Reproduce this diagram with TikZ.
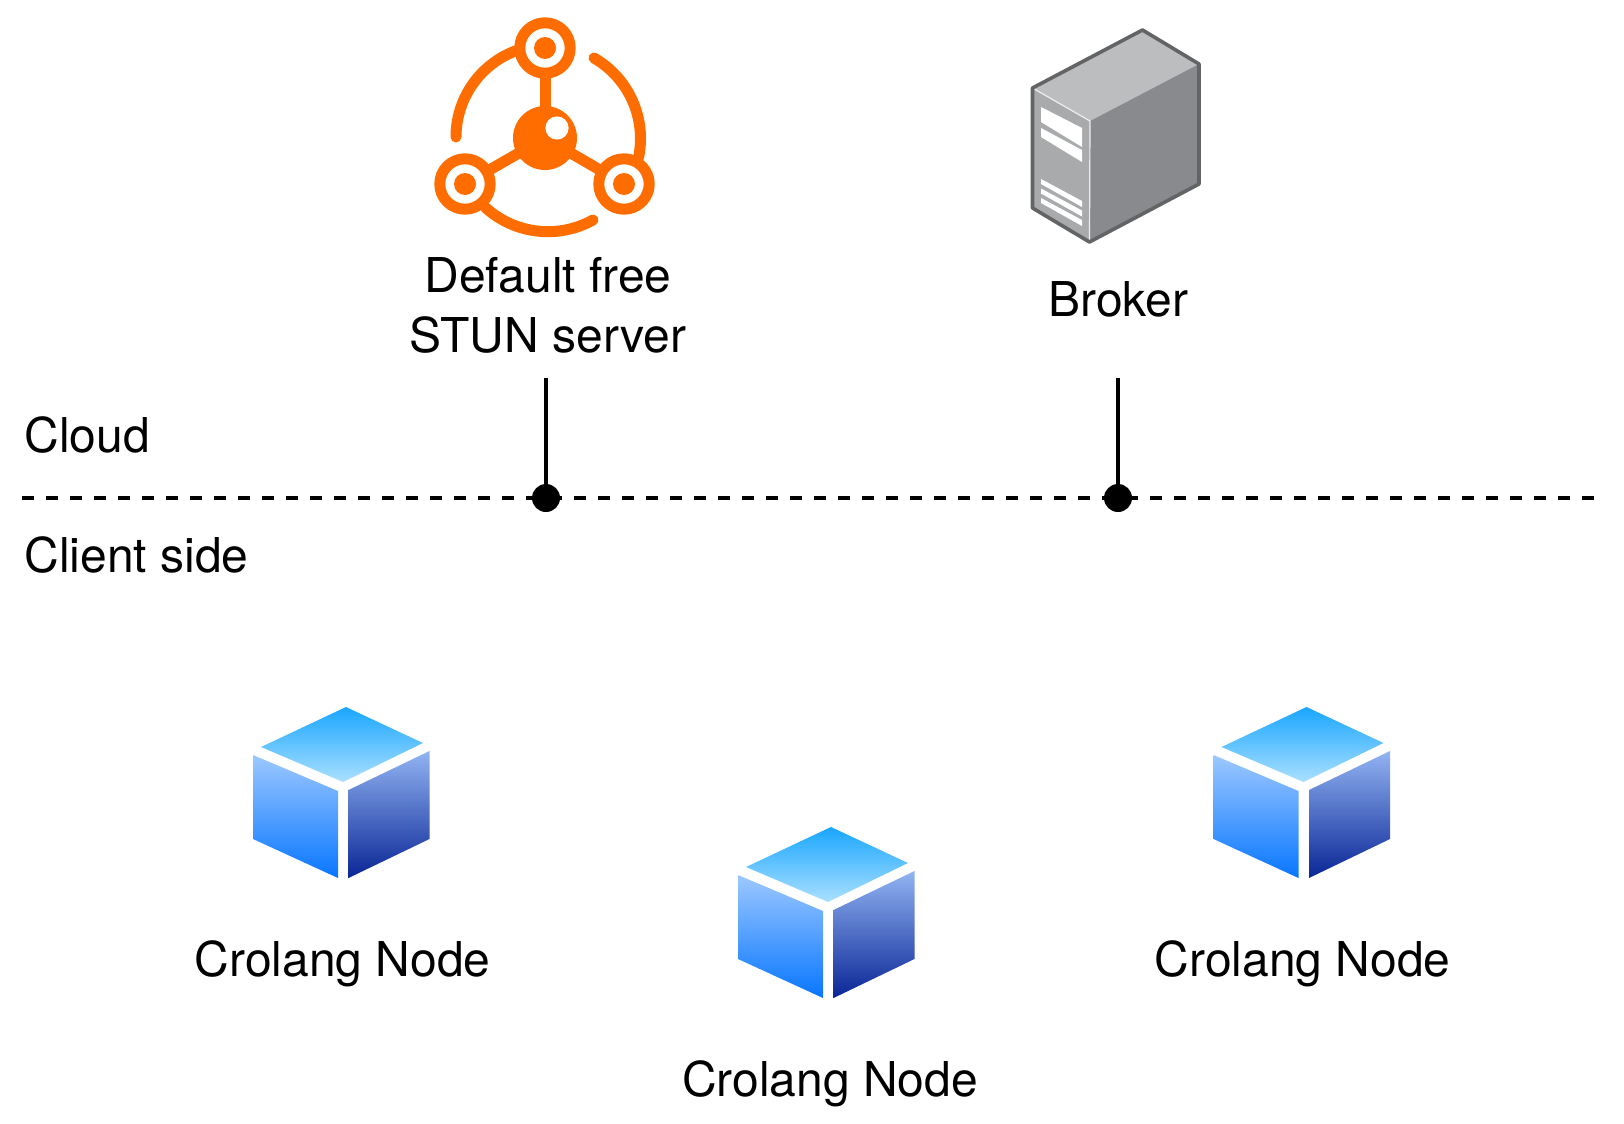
\documentclass[tikz,border=0pt]{standalone}
\usepackage{fontspec}
\setmainfont{TeX Gyre Heros}
\definecolor{stunor}{HTML}{FF6D00}
\definecolor{srvtop}{HTML}{BCBDBF}
\definecolor{srvside}{HTML}{898A8D}
\definecolor{srvfront}{HTML}{A9AAAC}
\definecolor{srvline}{HTML}{636466}
\definecolor{cubeTa}{HTML}{1AA6FF}
\definecolor{cubeTb}{HTML}{AAE0FF}
\definecolor{cubeLa}{HTML}{9CC8FF}
\definecolor{cubeLb}{HTML}{0876FF}
\definecolor{cubeRa}{HTML}{92B4F2}
\definecolor{cubeRb}{HTML}{0A2696}
\tikzset{
	lbl/.style={inner sep=0pt, font=\fontsize{24}{30}\selectfont, align=center, text=black},
	dot/.style={circle, fill=black, inner sep=0pt, minimum size=14pt},
	wire/.style={line width=2pt, black},
	divider/.style={line width=2pt, black, dash pattern=on 6pt off 6pt},
	ring/.style={line width=5.5pt, stunor, line cap=round}
}
\begin{document}
\begin{tikzpicture}[x=0.5pt, y=-0.5pt, line join=round]
	\useasboundingbox (0,0) rectangle (1624,1124);
	% STUN icon
	\coordinate (hub) at (545,138);
	\coordinate (satA) at (545,48);
	\coordinate (satB) at (465,184);
	\coordinate (satC) at (624,184);
	\foreach \sat in {satA,satB,satC} \draw[ring, line cap=butt] (hub)--(\sat);
	\draw[ring] (456,137) arc[start angle=180, end angle=110, radius=46pt];
	\draw[ring] (594,58) arc[start angle=60, end angle=-12, radius=46.5pt];
	\draw[ring] (593,220) arc[start angle=-61, end angle=-132, radius=46.5pt];
	\foreach \sat in {satA,satB,satC} {
		\fill[white] (\sat) circle(13pt);
		\draw[stunor, line width=5.5pt] (\sat) circle(12.6pt);
		\fill[stunor] (\sat) circle(5.5pt);
	}
	\fill[stunor] (hub) circle(16pt);
	\fill[white] (557,128) circle(5.8pt);
	% server
	\coordinate (srvT) at (1142.5,30);
	\coordinate (srvR) at (1199,64);
	\coordinate (srvRb) at (1199,184);
	\coordinate (srvB) at (1089.5,242);
	\coordinate (srvLb) at (1032.5,208);
	\coordinate (srvL) at (1032.5,88);
	\coordinate (srvM) at (1090,121);
	\fill[srvtop] (srvL)--(srvT)--(srvR)--(srvM)--cycle;
	\fill[srvside] (srvM)--(srvR)--(srvRb)--(srvB)--cycle;
	\fill[srvfront] (srvL)--(srvM)--(srvB)--(srvLb)--cycle;
	\fill[white] (1041,107)--(1082,128)--(1082,147)--(1041,122)--cycle;
	\fill[white] (1041,128)--(1082,150)--(1082,162)--(1041,137)--cycle;
	\foreach \dy in {0,9.5,19} \fill[white] (1041,179+\dy)--(1082,201+\dy)--(1082,207+\dy)--(1041,184+\dy)--cycle;
	\draw[white!80!srvfront, line width=0.6pt] (srvL)--(srvM)--(srvB);
	\draw[srvline, line width=1.8pt] (srvL)--(srvT)--(srvR)--(srvRb)--(srvB)--(srvLb)--cycle;
	% cubes
	\foreach \cx/\cy in {0/0,485/120,960.5/0} {
		\begin{scope}[shift={(\cx,\cy)}]
			\shade[top color=cubeTa, bottom color=cubeTb]
				(346,707)--(423,743)--(343,782)--(261,747)--cycle;
			\shade[top color=cubeLa, bottom color=cubeLb]
				(253,755)--(338,791)--(338,878)--(253,839)--cycle;
			\shade[top color=cubeRa, bottom color=cubeRb]
				(348.5,790)--(429.5,751)--(429.5,839)--(348.5,878)--cycle;
		\end{scope}
	}
	% divider
	\coordinate (lineL) at (22,498);
	\coordinate (lineR) at (1594,498);
	\draw[divider] (lineL)--(lineR);
	\node[dot] (stunDot) at (546,498) {};
	\node[dot] (brokerDot) at (1118,498) {};
	\coordinate (stunEnd) at (546,378);
	\coordinate (brokerEnd) at (1118,378);
	\draw[wire] (stunEnd)--(stunDot);
	\draw[wire] (brokerEnd)--(brokerDot);
	% labels
	\node[lbl] (stunLbl) at (548,305) {Default free\\STUN server};
	\node[lbl] (brokerLbl) at (1118.5,299) {Broker};
	\node[lbl, anchor=west] (cloudLbl) at (24,435) {Cloud};
	\node[lbl, anchor=west] (clientLbl) at (24,555) {Client side};
	\node[lbl] (nodeA) at (342.5,964) {Crolang Node};
	\node[lbl] (nodeB) at (830,1083.5) {Crolang Node};
	\node[lbl] (nodeC) at (1302.5,964) {Crolang Node};
\end{tikzpicture}
\end{document}
